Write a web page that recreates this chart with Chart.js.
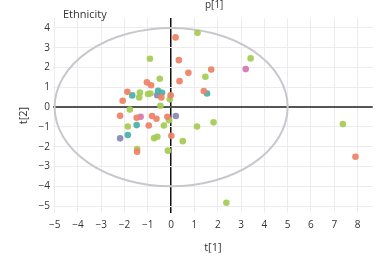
<!DOCTYPE html>
<html><head><meta charset="utf-8">
<script src="https://cdn.jsdelivr.net/npm/chart.js@4"></script>
<style>html,body{margin:0;padding:0;background:#fff;overflow:hidden}</style>
</head><body>
<canvas id="c" width="376" height="260"></canvas>
<script>
// ---- data ----
const xTicks = [-5,-4,-3,-2,-1,0,1,2,3,4,5,6,7,8];
const yTicks = [4,3,2,1,0,-1,-2,-3,-4,-5];
const chartTitle = 'Ethnicity';
const topLabel = 'p[1]';
const xTitle = 't[1]';
const yTitle = 't[2]';
const ellipseRX = 5;
const ellipseRY = 4;

const orangeX = [0.19,0.33,0.74,1.72,0.36,-1.04,-0.86,-1.88,-0.42,-0.02,-2.08,1.40,-2.19,-1.48,-0.82,-0.63,-0.16,-0.96,0.01,-1.46,7.91];
const orangeY = [3.52,2.37,1.73,1.90,1.31,1.25,1.10,0.77,0.49,0.60,0.32,0.81,-0.44,-0.54,-0.45,-0.59,-0.49,-0.93,-1.45,-2.25,-2.51];
const greenX = [1.13,-0.91,1.47,-0.49,-1.34,-1.37,-0.99,-0.89,-0.06,-0.46,-1.77,-0.09,-1.86,-0.31,1.11,1.82,-0.73,-0.59,0.50,-1.46,-0.14,3.41,7.37,2.37];
const greenY = [3.75,2.44,1.53,1.43,0.74,0.49,0.66,0.69,0.39,0.07,-0.12,-0.66,-0.98,-0.93,-0.98,-0.77,-1.57,-1.50,-1.72,-2.12,-2.20,2.46,-0.86,-4.83];
const tealX = [-1.67,-0.56,-0.39,1.54,-1.48,-1.86];
const tealY = [0.59,0.82,0.72,0.69,-0.91,-1.41];
const purpleX = [-0.60,0.20,-2.19];
const purpleY = [0.60,-0.45,-1.58];
const magentaX = [-1.31,3.20];
const magentaY = [-0.49,1.92];

const pts = (xs, ys) => xs.map((x, i) => ({x, y: ys[i]}));
const fmt = v => (v < 0 ? '\u2212' + Math.abs(v) : String(v));
const FONT = '"Open Sans", "DejaVu Sans", sans-serif';

const ellipsePlugin = {
  id: 'ellipse',
  beforeDatasetsDraw(chart) {
    const {ctx, scales: {x, y}} = chart;
    const cx = x.getPixelForValue(0), cy = y.getPixelForValue(0);
    const rx = x.getPixelForValue(ellipseRX) - cx;
    const ry = cy - y.getPixelForValue(ellipseRY);
    ctx.save();
    ctx.beginPath();
    ctx.ellipse(cx, cy, rx, ry, 0, 0, Math.PI * 2);
    ctx.strokeStyle = 'rgba(200,200,204,1)';
    ctx.lineWidth = 2;
    ctx.stroke();
    ctx.restore();
  },
  afterDraw(chart) {
    const {ctx} = chart;
    ctx.save();
    ctx.fillStyle = '#333';
    ctx.textBaseline = 'middle';
    ctx.font = '11px ' + FONT;
    ctx.fillText(chartTitle, 63, 15);
    ctx.font = '10px ' + FONT;
    ctx.fillText(topLabel, 205, 5);
    ctx.restore();
  }
};

const mk = (label, data, color) => ({
  label, data, backgroundColor: color, borderWidth: 0, pointRadius: 3.3, pointHoverRadius: 3.3
});

new Chart(document.getElementById('c'), {
  type: 'scatter',
  data: {
    datasets: [
      mk('orange', pts(orangeX, orangeY), 'rgba(238,132,104,0.95)'),
      mk('green', pts(greenX, greenY), 'rgba(168,204,88,0.95)'),
      mk('teal', pts(tealX, tealY), 'rgba(76,178,172,0.95)'),
      mk('purple', pts(purpleX, purpleY), 'rgba(138,138,184,0.95)'),
      mk('magenta', pts(magentaX, magentaY), 'rgba(214,120,182,0.95)')
    ]
  },
  options: {
    responsive: false,
    animation: false,
    layout: {padding: {top: 18, right: 1, left: 0, bottom: 0}},
    plugins: {legend: {display: false}, tooltip: {enabled: false}, title: {display: false}},
    scales: {
      x: {
        type: 'linear', min: -5.07, max: 8.65,
        afterBuildTicks: s => { s.ticks = xTicks.map(v => ({value: v})); },
        afterFit: s => { s.height = 47; },
        ticks: {callback: v => fmt(v), autoSkip: false, maxRotation: 0, padding: 6,
                color: '#333', font: {size: 10, family: FONT}},
        grid: {drawTicks: false,
               color: c => (c.tick && c.tick.value === 0 ? '#111' : '#ebebf0'),
               lineWidth: c => (c.tick && c.tick.value === 0 ? 1.5 : 1)},
        border: {display: false},
        title: {display: true, text: xTitle, color: '#333', padding: {top: 0, bottom: 5.5},
                font: {size: 11, family: FONT}}
      },
      y: {
        type: 'linear', min: -5.35, max: 4.5,
        afterBuildTicks: s => { s.ticks = yTicks.map(v => ({value: v})); },
        afterFit: s => { s.width = 53; },
        ticks: {callback: v => fmt(v), autoSkip: false, padding: 3,
                color: '#333', font: {size: 10, family: FONT}},
        grid: {drawTicks: false,
               color: c => (c.tick && c.tick.value === 0 ? '#555' : '#ebebf0'),
               lineWidth: c => (c.tick && c.tick.value === 0 ? 2 : 1)},
        border: {display: false},
        title: {display: true, text: yTitle, color: '#333', padding: {top: 17, bottom: 0},
                font: {size: 11, family: FONT}}
      }
    }
  },
  plugins: [ellipsePlugin]
});
</script>
</body></html>
